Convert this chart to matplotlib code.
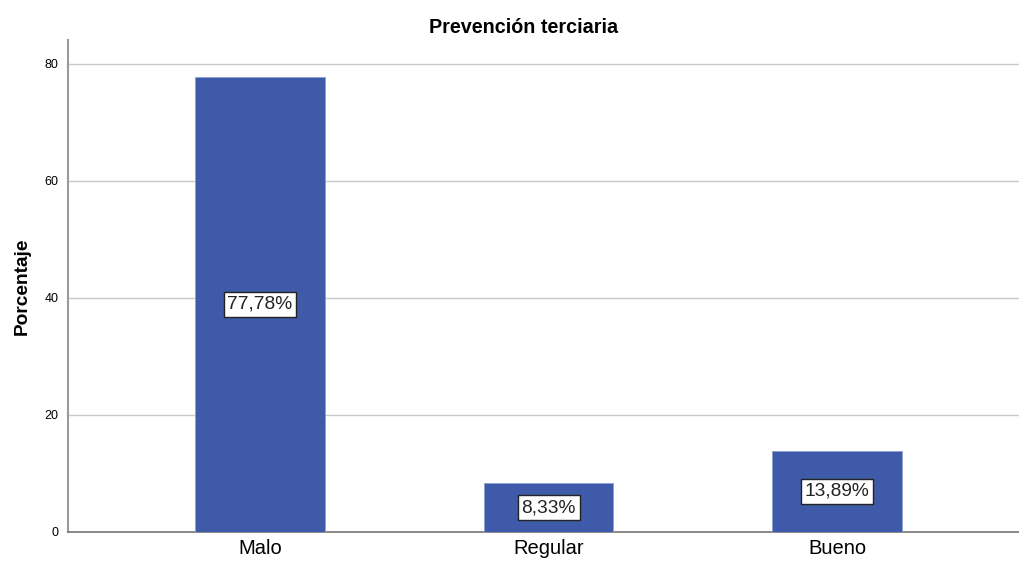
import matplotlib
matplotlib.use('Agg')
import matplotlib.pyplot as plt
import numpy as np

plt.rcParams['font.family'] = ['Liberation Sans', 'DejaVu Sans']

categories = ["Malo", "Regular", "Bueno"]
percentages = [77.78, 8.33, 13.89]
labels = ["77,78%", "8,33%", "13,89%"]

fig = plt.figure(figsize=(10.19, 5.61), dpi=100)
ax = fig.add_axes([0.0667, 0.0517, 0.9333, 0.877])

x = np.arange(len(categories))
ax.bar(x, percentages, 0.45, color='#3E5AA8', edgecolor='#8CA0D0', linewidth=0.6, zorder=3)

for xi, v, lab in zip(x, percentages, labels):
    ax.text(xi, v / 2, lab, ha='center', va='center', fontsize=13.8, color='#222222', zorder=4,
            bbox=dict(boxstyle='square,pad=0.2', facecolor='white', edgecolor='#222222', linewidth=1))

ax.set_xlim(-0.665, 2.63)
ax.set_ylim(0, 84.1)
ax.set_yticks([0, 20, 40, 60, 80])
ax.set_xticks(x)
ax.set_xticklabels(categories)
ax.tick_params(axis='y', length=0, labelsize=9, pad=7)
ax.tick_params(axis='x', length=0, labelsize=14.5, pad=5)
ax.yaxis.grid(True, color='#C8C8C8', linewidth=1, zorder=0)
ax.set_axisbelow(True)

for s in ['top', 'right']:
    ax.spines[s].set_visible(False)
ax.spines['left'].set_color('#9A9A9A')
ax.spines['left'].set_linewidth(1.5)
ax.spines['bottom'].set_color('#777777')
ax.spines['bottom'].set_linewidth(1.2)

ax.set_ylabel("Porcentaje", fontsize=13.8, fontweight='bold', labelpad=10)
fig.text(0.5135, 0.951, "Prevención terciaria", ha='center', va='center', fontsize=14.2, fontweight='bold')

plt.savefig("out.png", dpi=100)
